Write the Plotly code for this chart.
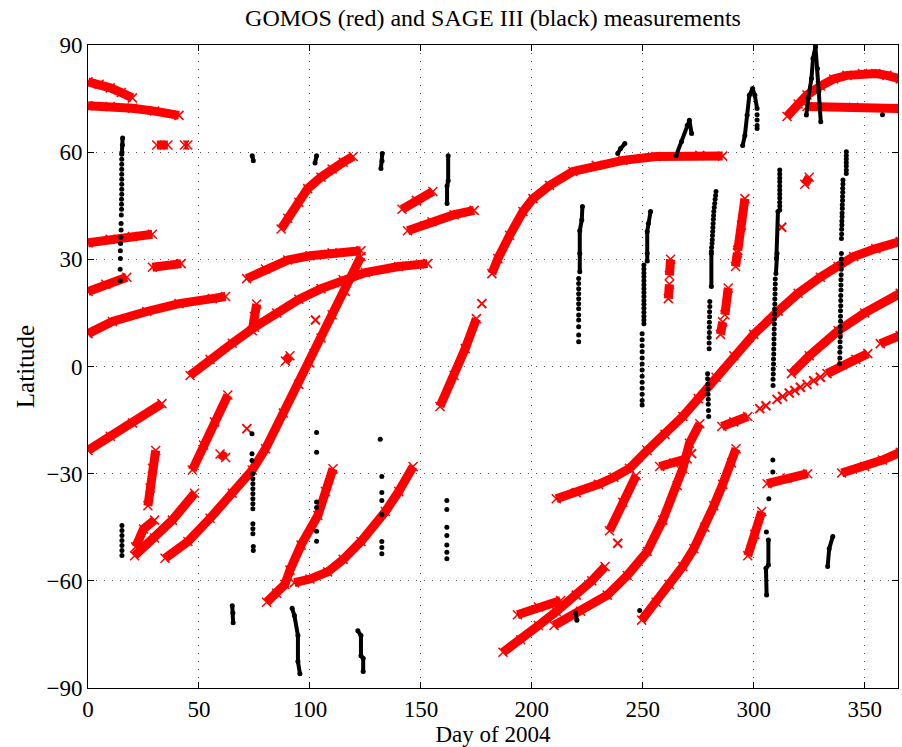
import plotly.graph_objects as go

# ---------------- GOMOS (red) : continuous tracks, (day, latitude) ----------------
G01 = [(0, 79.7), (5, 79.0), (10, 78.0), (15, 76.7), (20, 75.2)]
G02 = [(0, 73.0), (10, 72.8), (20, 72.3), (30, 71.5), (41, 70.3)]
G03 = [(31, 62.0), (36, 62.0)]
G04 = [(43.5, 62.0), (45, 62.0)]
G05 = [(0, 34.6), (10, 35.6), (20, 36.4), (29, 37.0)]
G06 = [(0, 21.0), (8, 23.0), (17.5, 25.0)]
G07 = [(29, 27.8), (42, 28.8)]
G08 = [(0, 9.2), (11, 12.6), (26.5, 15.4), (41, 17.6), (56, 19.0), (62, 19.6)]
G09 = [(71.5, 24.6), (80, 27.3), (90, 29.8), (100, 31.0), (110, 31.8), (123, 32.4)]
G10 = [(46, -2.5), (55, 2.0), (65, 6.5), (75, 11.0), (85, 15.0), (95, 18.8), (105, 21.8),
       (115, 24.3), (125, 26.3), (140, 28.0), (153, 28.8)]
G11 = [(74, 10.0), (75, 14.0), (76, 17.5)]
G12 = [(34.7, -53.7), (45, -49.0), (55, -42.5), (65, -35.5), (74, -29.0), (80, -23.0),
       (88, -13.0), (95, -5.0), (100, 1.0), (105, 8.0), (110, 14.5), (116, 21.0), (123, 30.8)]
G13 = [(80.5, -66.0), (85, -63.5), (88.7, -61.0), (91, -57.0), (96, -50.0), (103.6, -41.7),
       (107, -35.0), (110.4, -28.6)]
G14 = [(93, -60.5), (100, -59.5), (108, -57.5), (115, -54.0), (123, -49.0), (134, -40.6),
       (140, -35.0), (146.5, -28.0)]
G15 = [(158.6, -11.2), (165, -2.5), (170, 5.0), (175, 13.4)]
G16 = [(182, 26.0), (184.7, 30.2), (190, 36.7), (196, 43.4), (200.5, 47.0), (208, 50.7),
       (218.5, 54.6), (229, 56.3), (241, 57.7), (256, 58.8), (275.7, 59.1), (286, 58.9)]
G17 = [(87, 38.5), (90, 41.5), (95, 46.0), (99, 49.8), (105, 53.0), (110, 55.3),
       (115, 57.2), (119.5, 58.8)]
G18 = [(141.5, 44.0), (148, 46.5), (155.4, 49.0)]
G19 = [(144, 38.0), (155, 40.5), (165, 42.5), (174, 43.7)]
G20 = [(315, 70.0), (320, 73.5), (324, 76.0), (330, 78.5), (336, 80.5), (342, 81.5),
       (349, 82.0), (355, 82.0), (360, 81.5), (366, 80.5)]
G21 = [(324, 72.8), (345, 72.6), (366, 72.2)]
G22a = [(285, 9.0), (286, 12.5)]
G22b = [(287, 14.5), (288.5, 22.0)]
G22c = [(291.8, 28.0), (292.6, 31.8)]
G22d = [(292.8, 32.5), (294.5, 39.5), (296, 47.0)]
G23 = [(211, -37.0), (220, -35.3), (230, -33.0), (237, -31.0), (244, -28.5), (252, -23.5),
       (260, -19.0), (268, -14.0), (275, -9.0), (283, -3.0), (291, 3.0), (300, 9.0),
       (311, 15.5), (320, 20.5), (330, 25.0), (338, 28.0), (345, 30.8), (355, 33.0), (366, 35.0)]
G24 = [(317, -2.0), (325, 3.0), (338, 10.0), (350, 15.0), (366, 20.5)]
G25 = [(357, 6.4), (366, 8.7)]
G26 = [(333, -2.0), (340, 0.5), (346, 2.0), (351.4, 3.6)]
G27 = [(285.6, -16.8), (291, -15.5), (297.3, -14.0)]
G28 = [(306, -32.8), (315, -31.3), (324.3, -30.0)]
G29 = [(339.6, -29.8), (350, -28.0), (358, -26.2), (366, -24.0)]
G30 = [(297.3, -53.0), (300.5, -47.0), (303.6, -40.6)]
G31 = [(235, -46.0), (241, -38.0), (247, -30.5)]
G32 = [(187, -80.0), (195, -76.5), (203, -72.5), (211, -68.6), (220, -64.0), (227, -60.0), (233, -56.0)]
G33 = [(193.5, -69.5), (203, -67.3), (213, -65.5)]
G34 = [(210, -72.5), (222, -68.5), (234, -64.0), (243, -58.5), (252, -51.8), (259, -43.0),
       (265.5, -33.3), (268, -28.6), (271, -21.5), (275.7, -16.0)]
G35 = [(249.5, -71.0), (256, -66.0), (262, -61.0), (268, -56.0), (273, -51.0), (278, -45.0),
       (282, -39.0), (286, -33.0), (290, -27.0), (292, -23.0)]
G36 = [(257.6, -28.0), (264, -27.0), (270, -25.8)]
G37a = [(261.5, 19.0), (262, 23.0)]
G37b = [(262, 25.5), (262.5, 30.0)]
G38 = [(0, -23.5), (10, -19.5), (20, -15.8), (33.3, -10.4)]
G39 = [(27, -39.0), (28, -34.0), (29, -28.5), (30.5, -23.5)]
G40 = [(47, -29.0), (52, -22.0), (57, -15.5), (63, -8.0)]
G41 = [(59.5, -24.5), (62, -25.5)]
G42 = [(21, -53.0), (30, -48.0), (38, -43.0), (48, -35.5)]
G43 = [(21.5, -50.5), (25, -45.5), (30, -43.0)]
G44 = [(89, 1.5), (91, 3.0)]
G45 = [(323, 51.0), (325, 53.0)]

# GOMOS isolated / sparse measurements
G_single = [(102.5, 13.0), (177.5, 17.6), (71.6, -17.4), (312.6, 39.0), (272, -24.4),
            (238.7, -49.5), (302.7, -11.8), (305.5, -11.0), (310.5, -9.2), (313, -8.4),
            (316, -7.4), (318.5, -6.7), (321, -5.8), (324, -5.0), (327, -4.0), (330, -3.0)]

# ---------------- SAGE III (black) ----------------
# dense (continuous looking) occultation sequences
S01 = [(15.6, 64.0), (15.5, 62.0), (15.3, 60.0)]
S03 = [(74, 59.0), (74.5, 57.6)]
S05 = [(65, -67.0), (65.3, -69.0), (65.4, -71.7)]
S06 = [(92, -67.7), (93, -69.7), (94.6, -75.3), (94.6, -82.6), (95.5, -86.0)]
S07 = [(103, 59.0), (102.3, 57.0)]
S09 = [(121.6, -74.0), (123, -75.3), (123, -81.0), (124, -81.7), (124, -85.4)]
S10 = [(132.6, 59.6), (132.5, 57.5), (132, 55.4)]
S12 = [(162.3, 59.0), (162.3, 52.0), (161.8, 50.5), (161.8, 45.6)]
S14 = [(219.7, -69.0), (220.3, -71.0)]
S15 = [(222.8, 44.8), (222.5, 41.0), (221.6, 38.0), (221.6, 31.6), (221.6, 26.5)]
S16 = [(238.7, 59.6), (240, 61.0), (241.9, 62.4)]
S18 = [(253.5, 43.4), (252.5, 40.0), (252, 37.8), (252, 31.6), (252, 29.5)]
S19 = [(265, 59.0), (267.5, 63.0), (270, 67.5), (271, 68.9), (272, 65.2)]
S20 = [(280.9, 31.6), (280.9, 22.4)]
S21 = [(295, 61.9), (296, 64.7), (297, 70.3), (298, 75.9), (299.5, 77.8), (300.5, 75.9), (301.5, 72.2)]
S22a = [(310.9, 43.4), (310.2, 30.2)]
S22b = [(310.5, 31.6), (310.0, 26.0)]
S23 = [(306.6, -48.6), (306.6, -55.6), (305.5, -56.5), (305.8, -64.0)]
S24a = [(323.7, 70.4), (324.5, 75.0), (326, 80.6), (326.7, 86.2), (327.8, 89.5)]
S24b = [(327.8, 89.5), (328.7, 83.4), (329.3, 76.9), (329.7, 73.2), (330.2, 68.5)]
S26 = [(335.6, -47.6), (334, -51.0), (333.3, -56.0)]

# individual profiles (dotted columns)
D01 = [(15.2, 59.4), (15.2, 58.0), (15.2, 56.6), (15.2, 55.2), (15.2, 53.8), (15.2, 52.4),
       (15.2, 51.0), (15.2, 49.6), (15.2, 48.2), (15.1, 46.8), (15.1, 45.4), (15.1, 44.0),
       (15.0, 42.4), (14.9, 40.0), (14.9, 38.2), (14.8, 36.2), (14.7, 34.4), (14.6, 32.4),
       (14.6, 30.2), (14.5, 27.2), (14.5, 24.0)]
D02 = [(15.3, -44.5), (15.3, -45.9), (15.3, -47.3), (15.3, -48.7), (15.3, -50.1),
       (15.3, -51.5), (15.3, -52.9)]
D04 = [(73.9, -18.8), (73.9, -24.4), (73.9, -26.3), (74.3, -30.0), (74.3, -31.4), (74.3, -32.8),
       (74.3, -34.2), (74.3, -35.6), (74.3, -37.0), (74.3, -38.4), (74.3, -39.8), (74.3, -44.0),
       (74.3, -45.4), (74.3, -46.8), (74.5, -50.4), (74.5, -51.5)]
D08 = [(103, -18.5), (103, -24.0), (103, -37.9), (103, -39.5), (103, -46.1), (103, -48.9)]
D11 = [(131.7, -20.4), (132.4, -30.8), (132.4, -35.3), (132.4, -37.5), (132.4, -41.4),
       (132.4, -49.0), (132.4, -50.7), (132.4, -52.4)]
D13 = [(161.7, -37.5), (161.7, -40.0), (161.7, -45.0), (161.7, -47.3), (161.7, -50.0),
       (161.7, -52.0), (161.7, -53.8)]
D15 = [(221.1, 24.6), (221.1, 23.2), (221.1, 21.8), (221.1, 20.4), (221.1, 19.0), (221.1, 17.6),
       (221.1, 16.2), (221.1, 14.4), (221.1, 13.0), (221.1, 11.1), (221.1, 8.8), (221.1, 6.9)]
D17 = [(248.6, -68.3)]
D18 = [(250.5, 28.4), (250.5, 27.3), (250.5, 26.2), (250.5, 25.1), (250.5, 24.0), (250.5, 22.9),
       (250.5, 21.8), (250.5, 20.7), (250.5, 19.6), (250.5, 18.5), (250.5, 17.4), (250.5, 16.3),
       (250.5, 15.2), (250.5, 14.1), (250.5, 13.0), (250.5, 12.0),
       (249.7, 9.2), (249.7, 7.5), (249.7, 5.8), (249.7, 4.1), (249.7, 2.4), (249.7, 0.7),
       (249.7, -1.0), (249.7, -2.7), (249.7, -4.4), (249.7, -6.1), (249.7, -7.8), (249.7, -9.5),
       (249.7, -10.8)]
D20 = [(283.0, 49.0), (282.8, 47.9), (282.6, 46.8), (282.4, 45.6), (282.2, 44.5), (282.0, 43.4),
       (281.9, 42.3), (281.8, 41.2), (281.7, 40.0), (281.6, 38.9), (281.5, 37.8), (281.4, 36.7),
       (281.3, 35.5), (281.2, 34.4), (281.0, 33.3), (280.9, 32.2),
       (280.2, 18.2), (280.2, 16.8), (280.1, 15.3), (280.1, 13.9), (280.0, 12.4), (280.0, 11.0),
       (280.0, 9.5), (279.9, 8.1), (279.9, 6.6), (279.9, 5.0),
       (279.2, -2.0), (279.2, -3.4), (279.3, -4.9), (279.3, -6.3), (279.4, -7.8), (279.5, -9.2),
       (279.5, -10.6), (279.6, -12.3), (279.7, -14.0)]
D21 = [(301.5, 70.5), (301.5, 69.0), (301.5, 67.5), (301.5, 66.6)]
D22 = [(311.7, 55.0), (311.7, 53.9), (311.7, 52.8), (311.7, 51.7), (311.7, 50.5), (311.7, 49.4),
       (311.7, 48.3), (311.7, 47.2), (311.7, 46.0), (311.7, 44.9), (311.7, 43.8),
       (309.7, 24.5), (309.7, 23.1), (309.6, 21.7), (309.6, 20.3), (309.5, 18.9), (309.5, 17.5),
       (309.4, 16.1), (309.4, 14.7), (309.3, 13.3), (309.3, 11.9), (309.2, 10.5), (309.2, 9.1),
       (309.1, 7.7), (309.1, 6.3), (309.0, 4.9), (309.0, 3.5), (308.9, 2.1), (308.9, 0.7),
       (308.8, -0.7), (308.8, -2.1), (308.7, -3.6), (308.7, -5.3)]
D23 = [(308.6, -26.2), (308.6, -29.5), (306.8, -37.0), (305.7, -46.3)]
D25 = [(341.7, 60.1), (341.7, 59.1), (341.7, 58.1), (341.7, 57.1), (341.7, 56.1), (341.7, 55.0),
       (341.7, 54.0),
       (340.2, 52.2), (340.2, 51.1), (340.1, 49.9), (340.1, 48.8), (340.0, 47.6), (340.0, 46.5),
       (339.9, 45.3), (339.9, 44.2), (339.8, 43.0), (339.8, 41.9), (339.7, 40.7), (339.7, 39.6),
       (339.6, 38.4), (339.6, 37.1), (339.5, 35.8),
       (339.5, 31.6), (339.5, 30.1), (339.4, 28.6), (339.4, 27.2), (339.4, 25.7), (339.3, 24.3),
       (339.3, 22.8), (339.3, 21.4), (339.2, 19.9), (339.2, 18.5), (339.2, 17.0), (339.1, 15.6),
       (339.1, 14.1), (339.1, 12.7), (339.0, 11.2), (339.0, 9.8), (339.0, 8.3), (338.9, 6.9),
       (338.9, 5.4), (338.8, 4.0), (338.8, 2.4), (338.7, 0.8)]
D27 = [(358, 70.5)]

X_TICKS = [0, 50, 100, 150, 200, 250, 300, 350]
Y_TICKS = [-90, -60, -30, 0, 30, 60, 90]

GOMOS_TRACKS = [G01, G02, G03, G04, G05, G06, G07, G08, G09, G10, G11, G12, G13, G14, G15,
                G16, G17, G18, G19, G20, G21, G22a, G22b, G22c, G22d, G23, G24, G25, G26,
                G27, G28, G29, G30, G31, G32, G33, G34, G35, G36, G37a, G37b, G38, G39, G40,
                G41, G42, G43, G44, G45]
SAGE_DENSE = [S01, S03, S05, S06, S07, S09, S10, S12, S14, S15, S16, S18, S19, S20, S21,
              S22a, S22b, S23, S24a, S24b, S26]
SAGE_DOTS = [D01, D02, D04, D08, D11, D13, D15, D17, D18, D20, D21, D22, D23, D25, D27]

fig = go.Figure()


def xs(seg):
    return [p[0] for p in seg]


def ys(seg):
    return [p[1] for p in seg]


for seg in GOMOS_TRACKS:
    fig.add_trace(go.Scatter(x=xs(seg), y=ys(seg), mode="lines+markers",
                             line=dict(color="#ff0000", width=9),
                             marker=dict(symbol="x-thin", size=9, color="#ff0000",
                                         line=dict(color="#ff0000", width=1.5)),
                             hoverinfo="skip", showlegend=False))

fig.add_trace(go.Scatter(x=xs(G_single), y=ys(G_single), mode="markers",
                         marker=dict(symbol="x-thin", size=9, color="#ff0000",
                                     line=dict(color="#ff0000", width=2)),
                         hoverinfo="skip", showlegend=False))

for seg in SAGE_DENSE:
    fig.add_trace(go.Scatter(x=xs(seg), y=ys(seg), mode="lines+markers",
                             line=dict(color="black", width=4),
                             marker=dict(symbol="circle", size=5, color="black"),
                             hoverinfo="skip", showlegend=False))

for seg in SAGE_DOTS:
    fig.add_trace(go.Scatter(x=xs(seg), y=ys(seg), mode="markers",
                             marker=dict(symbol="circle", size=5, color="black"),
                             hoverinfo="skip", showlegend=False))

FONT = "Liberation Serif, Times New Roman, serif"
axis_common = dict(
    showline=True, linecolor="black", linewidth=1, mirror="ticks",
    ticks="inside", ticklen=6, tickcolor="black", tickwidth=1,
    showgrid=True, gridcolor="#555555", gridwidth=1, griddash="1px,7px",
    zeroline=False, tickfont=dict(family=FONT, size=23, color="black"),
)

fig.update_layout(
    width=902, height=747,
    margin=dict(l=88, r=4, t=45, b=59),
    paper_bgcolor="white", plot_bgcolor="white",
    font=dict(family=FONT, color="black"),
    title=dict(text="GOMOS (red) and SAGE III (black) measurements",
               font=dict(family=FONT, size=24, color="black"),
               x=0.5, xref="paper", xanchor="center",
               y=1 - 18 / 747, yref="container", yanchor="middle"),
    xaxis=dict(range=[0, 365], tickvals=X_TICKS, ticktext=[str(v) for v in X_TICKS],
               title=dict(text="Day of 2004", font=dict(family=FONT, size=23), standoff=2),
               **axis_common),
    yaxis=dict(range=[-90, 90], tickvals=Y_TICKS,
               ticktext=[("\u2212" + str(-v)) if v < 0 else str(v) for v in Y_TICKS],
               title=dict(text="Latitude", font=dict(family=FONT, size=25), standoff=4),
               **axis_common),
)

fig.write_html("out.html")
